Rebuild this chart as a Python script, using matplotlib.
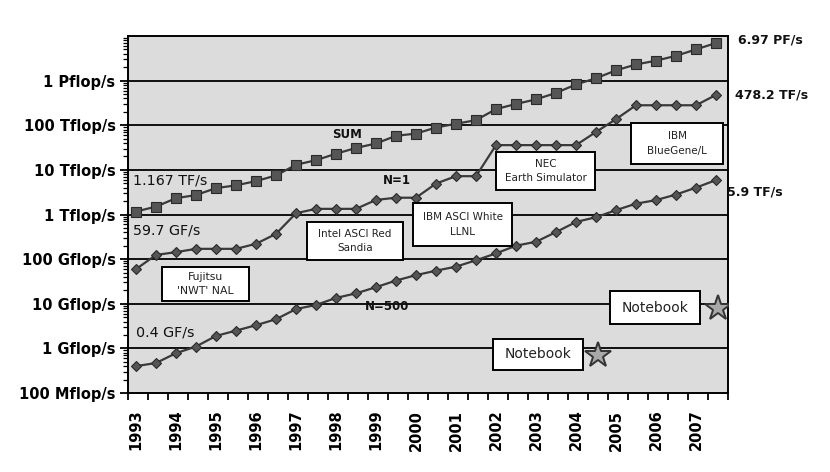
import numpy as np
import matplotlib
matplotlib.use("Agg")
import matplotlib.pyplot as plt
from matplotlib.patches import Rectangle

# ---------------- data (Gflop/s), TOP500 lists June/Nov 1993-2007 ----------------
lists = ["1993.06", "1993.11", "1994.06", "1994.11", "1995.06", "1995.11",
         "1996.06", "1996.11", "1997.06", "1997.11", "1998.06", "1998.11",
         "1999.06", "1999.11", "2000.06", "2000.11", "2001.06", "2001.11",
         "2002.06", "2002.11", "2003.06", "2003.11", "2004.06", "2004.11",
         "2005.06", "2005.11", "2006.06", "2006.11", "2007.06", "2007.11"]

sum_gf = [1167, 1500, 2320, 2730, 3900, 4500, 5600, 7500, 13000, 16500,
          23000, 31000, 39000, 58000, 65000, 89000, 108000, 130000, 230000, 300000,
          380000, 530000, 820000, 1130000, 1700000, 2300000, 2800000, 3600000,
          5000000, 6970000]

n1_gf = [59.7, 124, 143.4, 170, 170, 170, 220.4, 368.2, 1068, 1338,
         1338, 1338, 2121, 2379, 2379, 4938, 7226, 7226, 35860, 35860,
         35860, 35860, 35860, 70720, 136800, 280600, 280600, 280600, 280600, 478200]

n500_gf = [0.4, 0.47, 0.78, 1.1, 1.9, 2.5, 3.3, 4.5, 7.6, 9.4,
           13.5, 17.1, 23.5, 33.1, 43.8, 55.1, 67.8, 94.3, 134.3, 200,
           245, 403, 680, 870, 1250, 1750, 2100, 2800, 4000, 5900]

notebook_pos = [23.1, 29.1]
notebook_gf = [0.7, 8.0]

years = [str(y) for y in range(1993, 2008)]
ytick_vals = [0.1, 1, 10, 100, 1e3, 1e4, 1e5, 1e6]
ytick_labels = ["100 Mflop/s", "1 Gflop/s", "10 Gflop/s", "100 Gflop/s",
                "1 Tflop/s", "10 Tflop/s", "100 Tflop/s", "1 Pflop/s"]

# ---------------- figure ----------------
W, H = 830, 472
fig = plt.figure(figsize=(W / 100, H / 100), dpi=100)
fig.patch.set_facecolor("white")


def fx(px):
    return px / W


def fy(py):
    return 1 - py / H


ax = fig.add_axes([fx(128), fy(393), fx(728) - fx(128), fy(36) - fy(393)])
ax.set_facecolor("#dcdcdc")

x = np.arange(len(lists))
line_c = "#3a3a3a"
ax.plot(x, sum_gf, color=line_c, lw=1.6, marker="s", ms=6.8,
        mfc="#555555", mec="#2a2a2a", mew=0.8, zorder=5)
ax.plot(x, n1_gf, color=line_c, lw=1.6, marker="D", ms=5.5,
        mfc="#555555", mec="#2a2a2a", mew=0.8, zorder=5)
ax.plot(x, n500_gf, color=line_c, lw=1.6, marker="D", ms=4.8,
        mfc="#555555", mec="#2a2a2a", mew=0.8, zorder=5)
ax.plot(notebook_pos, notebook_gf, ls="none", marker="*", ms=19,
        mfc="#a8a8a8", mec="#333333", mew=1.4, zorder=6)

ax.set_yscale("log")
ax.set_ylim(0.1, 1e7)
ax.set_xlim(-0.4, 29.6)

for v in ytick_vals[1:]:
    ax.axhline(v, color="black", lw=1.3, zorder=2)

ax.set_yticks(ytick_vals)
ax.set_yticklabels(ytick_labels, fontsize=10.5, fontweight="bold",
                   family="DejaVu Sans")
ax.yaxis.set_minor_locator(matplotlib.ticker.LogLocator(base=10, subs=np.arange(2, 10), numticks=20))
ax.yaxis.set_minor_formatter(matplotlib.ticker.NullFormatter())
ax.tick_params(axis="y", which="major", length=6, width=1.3, pad=3, direction="out")
ax.tick_params(axis="y", which="minor", length=3.5, width=0.9, direction="out")

ax.set_xticks(np.arange(0, 30, 2))
ax.set_xticklabels(years, rotation=90, fontsize=10.5, fontweight="bold")
ax.set_xticks(np.arange(31) - 0.4, minor=True)
ax.tick_params(axis="x", which="major", length=0, pad=12)
ax.tick_params(axis="x", which="minor", length=5, width=1.3, direction="out")

for s in ax.spines.values():
    s.set_color("black")
    s.set_linewidth(1.4)

# ---------------- text labels ----------------
def ftext(px, py, s, ha="left", **kw):
    fig.text(fx(px), fy(py), s, ha=ha, va="center", color="#111111", **kw)


ftext(347, 135, "SUM", ha="center", fontsize=8.5, fontweight="bold")
ftext(397, 180, "N=1", ha="center", fontsize=8.5, fontweight="bold")
ftext(387, 307, "N=500", ha="center", fontsize=8.5, fontweight="bold")
ftext(133, 180, "1.167 TF/s", fontsize=10.3)
ftext(133, 230, "59.7 GF/s", fontsize=10.3)
ftext(136, 333, "0.4 GF/s", fontsize=10.3)
ftext(738, 40, "6.97 PF/s", fontsize=9, fontweight="bold")
ftext(735, 95, "478.2 TF/s", fontsize=9, fontweight="bold")
ftext(727, 192, "5.9 TF/s", fontsize=9, fontweight="bold")


def fbox(x0, y0, x1, y1, s, size=7.5):
    r = Rectangle((fx(x0), fy(y1)), fx(x1) - fx(x0), fy(y0) - fy(y1),
                  transform=fig.transFigure, facecolor="white",
                  edgecolor="black", lw=1.4, zorder=10)
    fig.add_artist(r)
    fig.text(fx((x0 + x1) / 2), fy((y0 + y1) / 2), s, ha="center", va="center",
             fontsize=size, linespacing=1.6, color="#222222", zorder=11)


fbox(162, 267, 249, 301, "Fujitsu\n'NWT' NAL", 7.8)
fbox(307, 222, 403, 260, "Intel ASCI Red\nSandia")
fbox(413, 203, 512, 246, "IBM ASCI White\nLLNL")
fbox(496, 152, 595, 190, "NEC\nEarth Simulator")
fbox(631, 123, 723, 164, "IBM\nBlueGene/L")
fbox(493, 339, 583, 370, "Notebook", 10)
fbox(610, 291, 700, 324, "Notebook", 10)

fig.savefig("out.png", dpi=100, facecolor="white")
